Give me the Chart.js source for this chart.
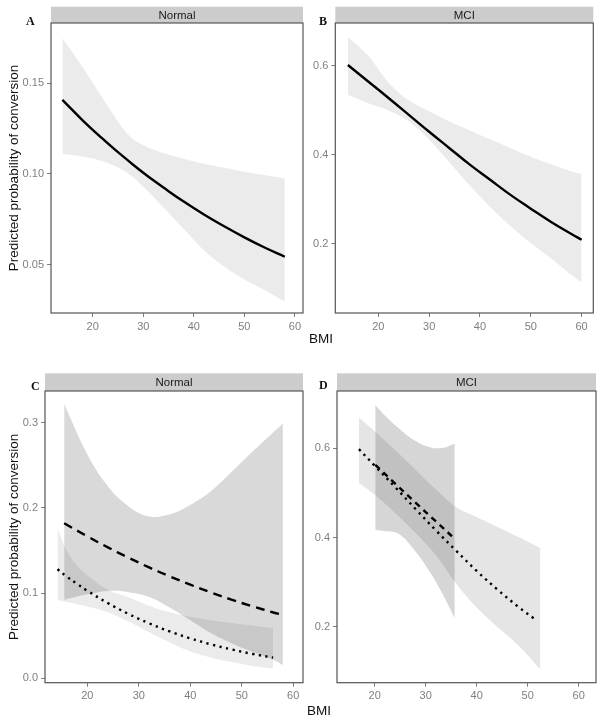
<!DOCTYPE html>
<html>
<head>
<meta charset="utf-8">
<script src="https://cdn.jsdelivr.net/npm/chart.js@4.4.1/dist/chart.umd.min.js"></script>
<style>
body { margin: 0; background: #fff; width: 604px; height: 721px; position: relative; overflow: hidden; font-family: "Liberation Sans", Arial, sans-serif; }
canvas { position: absolute; }
.tag { position: absolute; font-family: "Liberation Serif", "DejaVu Serif", serif; font-weight: bold; font-size: 12px; line-height: 12px; color: #111; }
.bmi { position: absolute; font-size: 13.5px; line-height: 13.5px; color: #111; }
</style>
</head>
<body>
<canvas id="cA" width="318" height="345" style="left:0;top:0"></canvas>
<canvas id="cB" width="302" height="345" style="left:302px;top:0"></canvas>
<canvas id="cC" width="318" height="361" style="left:0;top:360px"></canvas>
<canvas id="cD" width="302" height="361" style="left:302px;top:360px"></canvas>
<div class="tag" style="left:26px;top:15px">A</div>
<div class="tag" style="left:319px;top:15px">B</div>
<div class="tag" style="left:31px;top:380px">C</div>
<div class="tag" style="left:319px;top:379px">D</div>
<div class="bmi" style="left:309px;top:331.5px">BMI</div>
<div class="bmi" style="left:307px;top:703.5px">BMI</div>
<script>
// x axis (BMI), shared by all panels
var xTicks = [20, 30, 40, 50, 60];

// A: Normal, single model
var bmiA = [14, 18, 22, 24, 26, 28, 30, 32, 34, 38, 42, 46, 50, 54, 58];
var fitA = [0.1408, 0.1296, 0.1193, 0.1144, 0.1097, 0.1051, 0.1007, 0.0965, 0.0925, 0.0848, 0.0777, 0.0712, 0.0651, 0.0595, 0.0544];
var hiA  = [0.175, 0.159, 0.1417, 0.1330, 0.1250, 0.1192, 0.1160, 0.1135, 0.1116, 0.1084, 0.1057, 0.1035, 0.1013, 0.0995, 0.0976];
var loA  = [0.111, 0.1096, 0.107, 0.1048, 0.102, 0.0981, 0.093, 0.0875, 0.0815, 0.0697, 0.058, 0.049, 0.0418, 0.036, 0.0297];
var yTicksA = [0.05, 0.10, 0.15];
var yLabelsA = ['0.05', '0.10', '0.15'];

// B: MCI, single model
var bmiB = [14, 18, 22, 26, 30, 34, 38, 42, 46, 50, 54, 58, 60];
var fitB = [0.602, 0.565, 0.528, 0.490, 0.452, 0.415, 0.378, 0.344, 0.310, 0.279, 0.249, 0.222, 0.209];
var hiB  = [0.665, 0.623, 0.563, 0.5228, 0.498, 0.475, 0.455, 0.435, 0.4156, 0.396, 0.379, 0.363, 0.357];
var loB  = [0.535, 0.516, 0.500, 0.475, 0.434, 0.383, 0.331, 0.283, 0.240, 0.2015, 0.167, 0.130, 0.113];
var yTicksB = [0.2, 0.4, 0.6];
var yLabelsB = ['0.2', '0.4', '0.6'];

// C: Normal, two groups (dashed / dotted)
var bmiC1 = [15.5, 20, 24, 28, 32, 36, 40, 44, 48, 52, 56, 58];
var hiC1  = [0.322, 0.263, 0.2255, 0.202, 0.190, 0.1925, 0.2035, 0.2195, 0.242, 0.2656, 0.288, 0.299];
var loC1  = [0.092, 0.0985, 0.1025, 0.101, 0.0955, 0.083, 0.068, 0.053, 0.041, 0.031, 0.022, 0.0156];
var lineBmiC1 = [15.5, 20, 24, 28, 32, 36, 40, 44, 48, 52, 56, 57.6];
var fitC1 = [0.182, 0.1666, 0.1536, 0.1416, 0.1301, 0.1196, 0.1099, 0.1007, 0.0923, 0.0846, 0.0775, 0.0748];
var bmiC2 = [14.2, 16, 18, 20, 24, 28, 32, 36, 40, 44, 48, 52, 56.1];
var hiC2  = [0.176, 0.150, 0.1325, 0.121, 0.104, 0.0952, 0.0852, 0.0776, 0.0722, 0.068, 0.0648, 0.0618, 0.0587];
var loC2  = [0.092, 0.0895, 0.087, 0.0843, 0.0775, 0.0665, 0.054, 0.042, 0.0315, 0.0245, 0.019, 0.0145, 0.0115];
var fitC2 = [0.128, 0.1194, 0.1108, 0.1027, 0.0882, 0.0755, 0.0645, 0.055, 0.0469, 0.0398, 0.0339, 0.0287, 0.0243];
var yTicksC = [0.0, 0.1, 0.2, 0.3];
var yLabelsC = ['0.0', '0.1', '0.2', '0.3'];

// D: MCI, two groups (dashed / dotted)
var bmiD1 = [20.1, 22.3, 24.6, 27.5, 30.8, 33.4, 35.7];
var hiD1  = [0.697, 0.670, 0.646, 0.620, 0.6025, 0.601, 0.611];
var loD1  = [0.417, 0.414, 0.409, 0.376, 0.323, 0.271, 0.219];
var lineBmiD1 = [20.1, 24, 28, 32, 35.6];
var fitD1 = [0.563, 0.521, 0.478, 0.436, 0.398];
var bmiD2 = [16.9, 20, 24, 28, 32, 36, 40, 44, 48, 52.5];
var hiD2  = [0.669, 0.638, 0.596, 0.552, 0.508, 0.468, 0.446, 0.424, 0.402, 0.376];
var loD2  = [0.5215, 0.496, 0.455, 0.410, 0.360, 0.296, 0.243, 0.200, 0.160, 0.104];
var lineBmiD2 = [16.9, 20, 24, 28, 32, 36, 40, 44, 48, 51.4];
var fitD2 = [0.598, 0.561, 0.513, 0.464, 0.416, 0.370, 0.325, 0.284, 0.246, 0.217];
var yTicksD = [0.2, 0.4, 0.6];
var yLabelsD = ['0.2', '0.4', '0.6'];

var FONT = '"Liberation Sans", Arial, sans-serif';
Chart.defaults.font.family = FONT;

function pts(xs, ys) {
    return xs.map(function (x, i) { return {x: x, y: ys[i]}; });
}

function ribbon(xs, hi, lo, color) {
    return [
        {data: pts(xs, hi), fill: '+1', backgroundColor: color, borderColor: 'rgba(0,0,0,0)', borderWidth: 0, pointRadius: 0, tension: 0.4, order: 2},
        {data: pts(xs, lo), fill: false, borderColor: 'rgba(0,0,0,0)', borderWidth: 0, pointRadius: 0, tension: 0.4, order: 2}
    ];
}

function line(xs, ys, dash) {
    return {data: pts(xs, ys), fill: false, borderColor: '#000', borderWidth: 2.4, borderDash: dash, borderCapStyle: 'butt',
        pointRadius: 0, tension: 0.4, order: 0};
}

// strip on top of the panel + box around the plot area
var panelFrame = {
    id: 'panelFrame',
    afterDraw: function (chart, args, opts) {
        var ctx = chart.ctx, a = chart.chartArea;
        ctx.save();
        ctx.fillStyle = '#cccccc';
        ctx.fillRect(a.left, a.top - opts.stripH, a.right - a.left, opts.stripH);
        ctx.fillStyle = '#1a1a1a';
        ctx.font = '11.5px ' + FONT;
        ctx.textAlign = 'center';
        ctx.textBaseline = 'middle';
        ctx.fillText(opts.strip, (a.left + a.right) / 2, a.top - opts.stripH / 2 + 0.5);
        ctx.strokeStyle = '#555';
        ctx.lineWidth = 1.2;
        ctx.strokeRect(a.left, a.top, a.right - a.left, a.bottom - a.top);
        ctx.restore();
    }
};

function makePanel(id, p) {
    var yScale = {
        type: 'linear', min: p.ymin, max: p.ymax,
        afterFit: function (s) { s.width = p.left; },
        afterBuildTicks: function (s) { s.ticks = p.yTicks.map(function (v) { return {value: v}; }); },
        ticks: {color: '#7f7f7f', font: {size: 11}, padding: 3, autoSkip: false,
            callback: function (v, i) { return p.yLabels[i]; }},
        grid: {display: true, drawOnChartArea: false, drawTicks: true, tickLength: 4, tickColor: '#7f7f7f'},
        border: {display: false},
        title: {display: !!p.yTitle, text: p.yTitle, color: '#111', font: {size: 13.5}, padding: {top: 6, bottom: 0}}
    };
    var xScale = {
        type: 'linear', min: p.xmin, max: p.xmax,
        afterFit: function (s) { s.height = p.bottom; },
        afterBuildTicks: function (s) { s.ticks = xTicks.map(function (v) { return {value: v}; }); },
        ticks: {color: '#7f7f7f', font: {size: 11}, padding: 3, autoSkip: false, maxRotation: 0,
            callback: function (v) { return String(v); }},
        grid: {display: true, drawOnChartArea: false, drawTicks: true, tickLength: 4, tickColor: '#7f7f7f'},
        border: {display: false}
    };
    return new Chart(document.getElementById(id), {
        type: 'line',
        data: {datasets: p.datasets},
        options: {
            responsive: false,
            animation: false,
            layout: {padding: {left: 0, top: p.top, right: p.right, bottom: 0}},
            scales: {x: xScale, y: yScale},
            plugins: {legend: {display: false}, tooltip: {enabled: false}, panelFrame: {strip: p.strip, stripH: p.stripH}}
        },
        plugins: [panelFrame]
    });
}

var light = 'rgba(0,0,0,0.08)';

makePanel('cA', {
    left: 51, top: 23, right: 15, bottom: 32, xmin: 11.75, xmax: 61.6, ymin: 0.0234, ymax: 0.1832,
    yTicks: yTicksA, yLabels: yLabelsA, yTitle: 'Predicted probability of conversion', strip: 'Normal', stripH: 16.3,
    datasets: ribbon(bmiA, hiA, loA, light).concat([line(bmiA, fitA, [])])
});

makePanel('cB', {
    left: 33.3, top: 23, right: 10.7, bottom: 32, xmin: 11.53, xmax: 62.3, ymin: 0.0443, ymax: 0.6966,
    yTicks: yTicksB, yLabels: yLabelsB, yTitle: '', strip: 'MCI', stripH: 16.3,
    datasets: ribbon(bmiB, hiB, loB, light).concat([line(bmiB, fitB, [])])
});

makePanel('cC', {
    left: 45, top: 31, right: 15, bottom: 38.3, xmin: 11.78, xmax: 61.9, ymin: -0.0052, ymax: 0.3372,
    yTicks: yTicksC, yLabels: yLabelsC, yTitle: 'Predicted probability of conversion', strip: 'Normal', stripH: 17.7,
    datasets: ribbon(bmiC1, hiC1, loC1, 'rgba(0,0,0,0.15)')
        .concat(ribbon(bmiC2, hiC2, loC2, light))
        .concat([line(lineBmiC1, fitC1, [9, 6]), line(bmiC2, fitC2, [2.3, 4.4])])
});

makePanel('cD', {
    left: 35, top: 31, right: 8, bottom: 38.3, xmin: 12.6, xmax: 63.4, ymin: 0.0744, ymax: 0.7285,
    yTicks: yTicksD, yLabels: yLabelsD, yTitle: '', strip: 'MCI', stripH: 17.7,
    datasets: ribbon(bmiD1, hiD1, loD1, 'rgba(0,0,0,0.16)')
        .concat(ribbon(bmiD2, hiD2, loD2, 'rgba(0,0,0,0.1)'))
        .concat([line(lineBmiD1, fitD1, [6, 5]), line(lineBmiD2, fitD2, [2.3, 4.4])])
});
</script>
</body>
</html>
